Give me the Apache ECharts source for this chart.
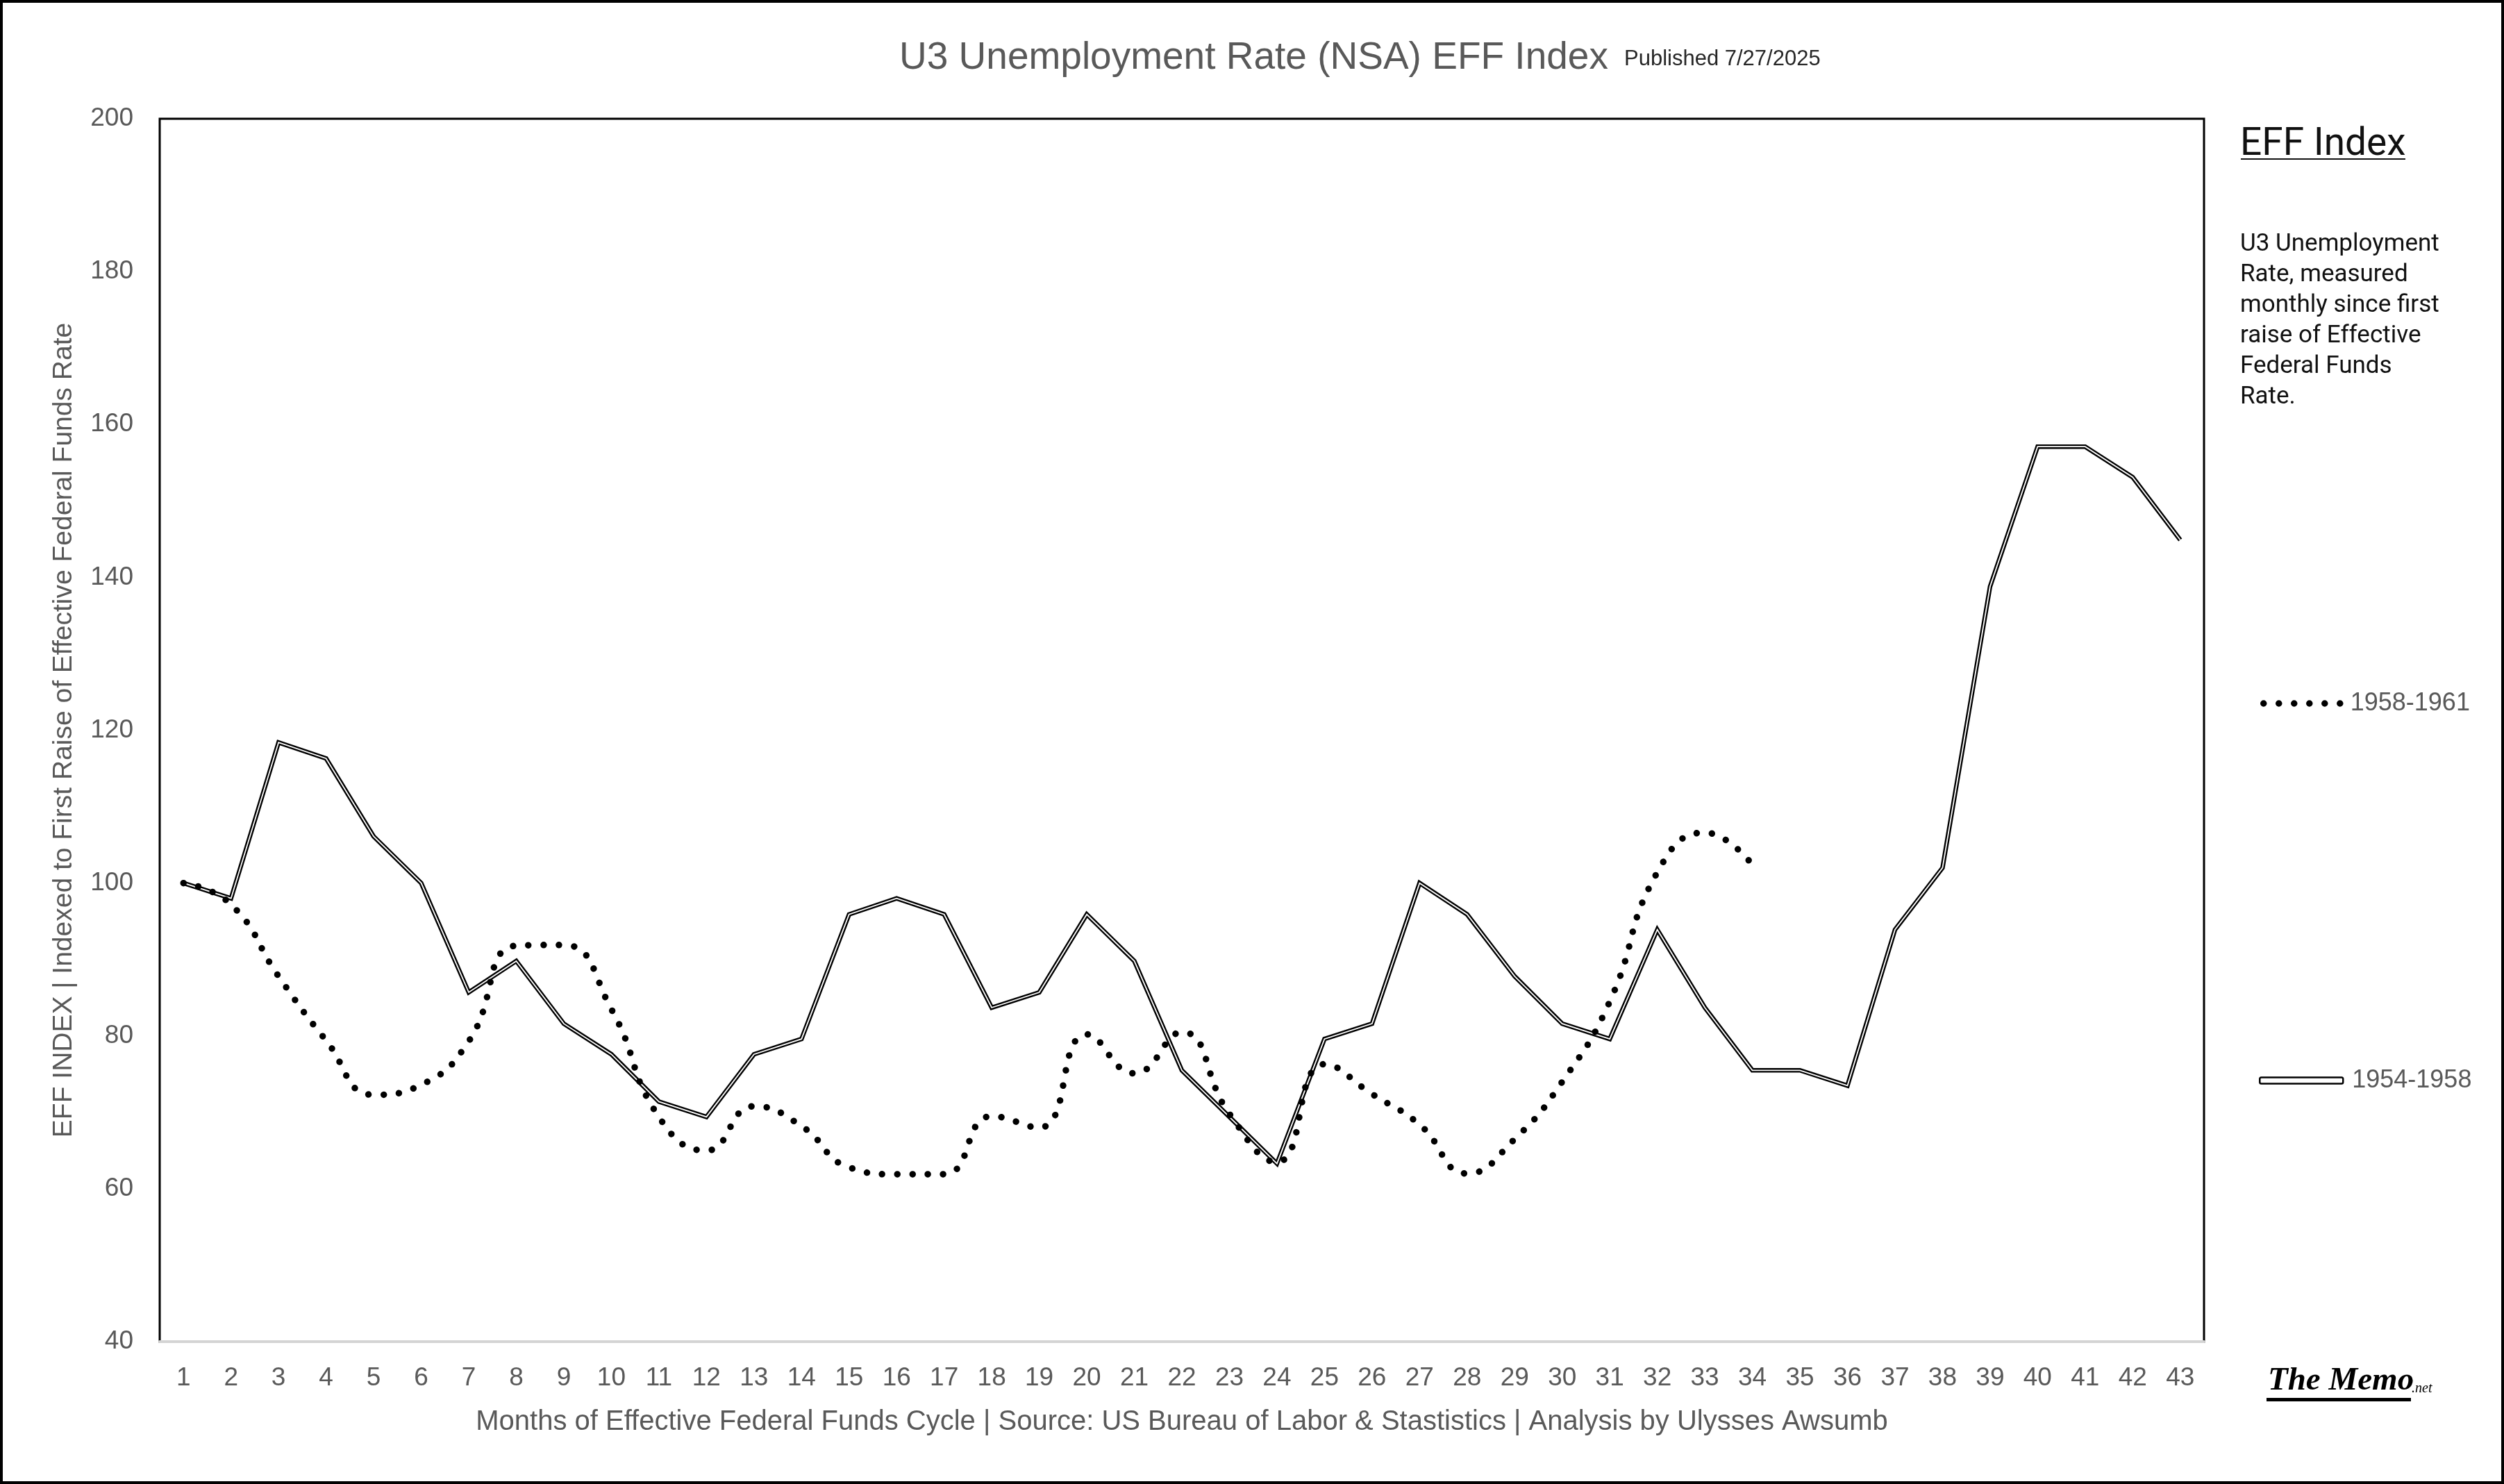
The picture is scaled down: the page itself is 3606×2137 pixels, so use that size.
<!DOCTYPE html>
<html>
<head>
<meta charset="utf-8">
<script src="https://cdn.jsdelivr.net/npm/echarts@6/dist/echarts.min.js"></script>
<style>
html,body{margin:0;padding:0;background:#fff;}
#chart{width:3606px;height:2137px;}
</style>
</head>
<body>
<div id="chart"></div>
<script>
// ---- data ----
const months = ['1','2','3','4','5','6','7','8','9','10','11','12','13','14','15','16','17','18','19','20','21','22','23','24','25','26','27','28','29','30','31','32','33','34','35','36','37','38','39','40','41','42','43'];
const yTicks = [40, 60, 80, 100, 120, 140, 160, 180, 200];
const series1954 = [100, 98.0, 118.4, 116.3, 106.1, 100, 85.7, 89.8, 81.6, 77.6, 71.4, 69.4, 77.6, 79.6, 95.9, 98.0, 95.9, 83.7, 85.7, 95.9, 89.8, 75.5, 69.4, 63.3, 79.6, 81.6, 100, 95.9, 87.8, 81.6, 79.6, 93.9, 83.7, 75.5, 75.5, 73.5, 93.9, 102.0, 138.8, 157.1, 157.1, 153.1, 144.9];
const series1958 = [100, 97.2, 87.8, 79.4, 72.3, 73.6, 79.3, 91.8, 91.9, 83.5, 69.4, 65.0, 70.8, 68.2, 62.8, 61.9, 61.9, 69.5, 68.0, 80.2, 75.1, 80.5, 69.8, 63.5, 76.3, 72.4, 68.4, 62.0, 66.5, 74.0, 84.5, 101.4, 106.6, 102.4];
const name1954 = '1954-1958';
const name1958 = '1958-1961';

const gray = '#595959';
const dotStyle = { color: '#000', width: 9.5, type: [0.01, 22], cap: 'round' };
const chart = echarts.init(document.getElementById('chart'));

const option = {
  animation: false,
  backgroundColor: '#ffffff',
  title: [
    { text: 'U3 Unemployment Rate (NSA) EFF Index', left: 1290, top: 48,
      textStyle: { fontFamily: 'Liberation Sans', fontSize: 55, fontWeight: 'normal', color: gray, lineHeight: 62 } },
    { text: 'Published 7/27/2025', left: 2334, top: 62,
      textStyle: { fontFamily: 'Liberation Sans', fontSize: 31, fontWeight: 'normal', color: '#262626', lineHeight: 36 } }
  ],
  grid: {
    left: 230, top: 171, right: 432, bottom: 205,
    show: true, borderColor: '#000', borderWidth: 3, backgroundColor: '#fff'
  },
  xAxis: {
    type: 'category', data: months, boundaryGap: true,
    z: 5,
    axisLine: { show: true, lineStyle: { color: '#d4d4d4', width: 4 } },
    axisTick: { show: false },
    axisLabel: { interval: 0, margin: 34, fontFamily: 'Liberation Sans', fontSize: 37, color: gray },
    splitLine: { show: false },
    name: 'Months of Effective Federal Funds Cycle | Source: US Bureau of Labor & Stastistics | Analysis by Ulysses Awsumb',
    nameLocation: 'middle', nameGap: 96,
    nameTextStyle: { fontFamily: 'Liberation Sans', fontSize: 40, color: gray }
  },
  yAxis: {
    type: 'value', min: yTicks[0], max: yTicks[yTicks.length - 1], interval: 20,
    axisLine: { show: false }, axisTick: { show: false }, splitLine: { show: false },
    axisLabel: { margin: 38, fontFamily: 'Liberation Sans', fontSize: 37, color: gray },
    name: 'EFF INDEX | Indexed to First Raise of Effective Federal Funds Rate',
    nameLocation: 'middle', nameGap: 118, nameRotate: 90,
    nameTextStyle: { fontFamily: 'Liberation Sans', fontSize: 39, color: gray }
  },
  legend: [
    { data: [name1958], left: 3255, top: 995, padding: 0, itemWidth: 112, itemHeight: 10, itemGap: 0, itemTextGap: 20,
      selectedMode: false, itemStyle: { opacity: 0 }, lineStyle: dotStyle,
      textStyle: { fontFamily: 'Liberation Sans', fontSize: 36, color: gray, padding: [0, 0, 0, 8] } },
    { data: [{ name: name1954, icon: 'roundRect' }], left: 3253, top: 1538, padding: 0, itemWidth: 120, itemHeight: 9, itemGap: 0, itemTextGap: 12,
      selectedMode: false, itemStyle: { color: '#ffffff', borderColor: '#000000', borderWidth: 2.5 },
      textStyle: { fontFamily: 'Liberation Sans', fontSize: 36, color: gray, padding: [0, 0, 0, 8] } }
  ],
  series: [
    { name: name1954, type: 'line', data: series1954, symbol: 'none', z: 2,
      lineStyle: { color: '#000', width: 6.5, join: 'miter' }, itemStyle: { color: '#000' } },
    { name: name1954 + ' inner', type: 'line', data: series1954, symbol: 'none', z: 3, silent: true,
      lineStyle: { color: '#fff', width: 1.8, join: 'miter' }, itemStyle: { color: '#fff' } },
    { name: name1958, type: 'line', data: series1958, symbol: 'none', smooth: 0.5, z: 4,
      lineStyle: dotStyle, itemStyle: { color: '#000' } }
  ],
  graphic: [
    { type: 'rect', silent: true, z: 100, shape: { x: 2, y: 2, width: 3602, height: 2133 },
      style: { fill: 'none', stroke: '#000', lineWidth: 4 } },
    { type: 'text', left: 3226, top: 182, silent: true,
      style: { text: 'EFF Index', font: '400 55px Roboto', fill: '#111' } },
    { type: 'rect', silent: true, shape: { x: 3227, y: 228, width: 237, height: 2 }, style: { fill: '#111' } },
    { type: 'text', left: 3226, top: 330, silent: true,
      style: { text: 'U3 Unemployment\nRate, measured\nmonthly since first\nraise of Effective\nFederal Funds\nRate.', font: '400 35px Roboto', lineHeight: 44, fill: '#111' } },
    { type: 'text', left: 3266, top: 1965, silent: true,
      style: { text: 'The Memo', font: 'italic bold 47px "Liberation Serif"', fill: '#000' } },
    { type: 'text', left: 3473, top: 1990, silent: true,
      style: { text: '.net', font: 'italic 20px "Liberation Serif"', fill: '#000' } },
    { type: 'rect', silent: true, shape: { x: 3264, y: 2013, width: 208, height: 5 }, style: { fill: '#000' } }
  ]
};
chart.setOption(option);
</script>
</body>
</html>
